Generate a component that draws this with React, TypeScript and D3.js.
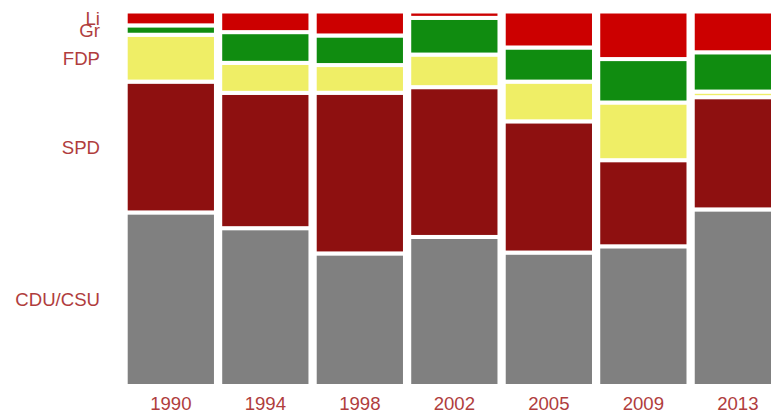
import React from "react";
import * as d3 from "d3";

const years = ["1990", "1994", "1998", "2002", "2005", "2009", "2013"];
const parties = ["CDU/CSU", "SPD", "FDP", "Gr", "Li"];
const cduValues = [46.3, 42.1, 35.4, 39.8, 35.6, 37.3, 47.2];
const spdValues = [34.9, 36.1, 42.9, 40.0, 35.0, 23.0, 30.0];
const fdpValues = [12.5, 8.0, 7.4, 8.7, 10.6, 15.4, 1.5];
const grValues = [2.5, 8.2, 7.9, 9.8, 9.1, 11.6, 10.5];
const liValues = [3.7, 5.5, 6.4, 1.7, 9.6, 12.7, 10.9];
const partyColors = ["#808080", "#8e1010", "#efee66", "#108c10", "#cc0000"];

const W = 771;
const H = 417;
const STROKE = 4;

export default function App() {
  const seriesValues = [cduValues, spdValues, fdpValues, grValues, liValues];
  const rows = years.map((y, i) => {
    const r: any = { year: y };
    parties.forEach((p, j) => (r[p] = seriesValues[j][i]));
    return r;
  });
  const stack = d3.stack<any>().keys(parties).offset(d3.stackOffsetExpand);
  const layers = stack(rows);

  const x = d3
    .scaleBand<string>()
    .domain(years)
    .range([125.7, 125.7 + 93.9 * 7])
    .paddingInner(0.045)
    .paddingOuter(0)
    .align(0);
  const y = d3.scaleLinear().domain([0, 1]).range([386, 11.5]);
  const textColor = "#b03d3d";
  const font = "'Liberation Sans', Arial, sans-serif";

  return (
    <svg
      width={W}
      height={H}
      style={{ position: "absolute", left: 0, top: 0 }}
      fontFamily={font}
    >
      {layers.map((layer, li) => (
        <g key={layer.key} fill={partyColors[li]}>
          {layer.map((d, i) => (
            <rect
              key={i}
              x={x(years[i])}
              width={x.bandwidth()}
              y={y(d[1])}
              height={Math.max(0, y(d[0]) - y(d[1]))}
              stroke="#fff"
              strokeWidth={STROKE}
            />
          ))}
        </g>
      ))}
      {layers.map((layer) => {
        const d = layer[0];
        return (
          <text
            key={layer.key}
            x={100}
            y={(y(d[0]) + y(d[1])) / 2}
            dy="0.35em"
            textAnchor="end"
            fontSize={18.6}
            fill={textColor}
          >
            {layer.key}
          </text>
        );
      })}
      {years.map((yr) => (
        <text
          key={yr}
          x={(x(yr) as number) + x.bandwidth() / 2}
          y={410}
          textAnchor="middle"
          fontSize={18.6}
          fill={textColor}
        >
          {yr}
        </text>
      ))}
    </svg>
  );
}
